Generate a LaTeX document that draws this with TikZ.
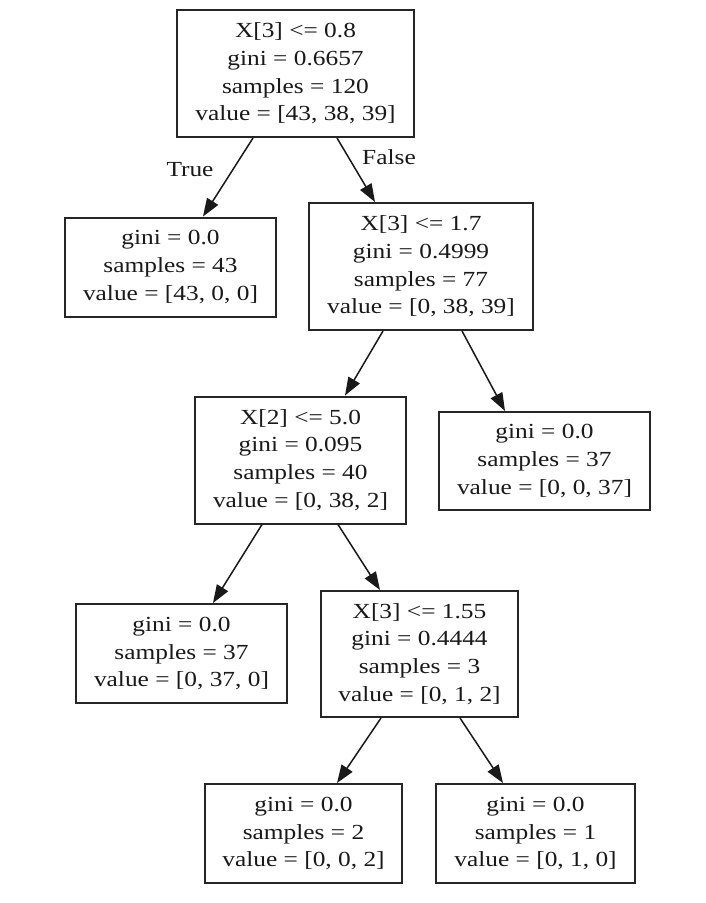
\documentclass[tikz,border=0pt]{standalone}
\usepackage{fontspec}
\setmainfont{Liberation Serif}[FakeStretch=1.18]
\usetikzlibrary{arrows.meta}
\begin{document}
\begin{tikzpicture}[x=1pt,y=-1pt,
  treenode/.style={draw=black!85, line width=2pt, fill=white, align=center,
    inner sep=0pt, font=\fontsize{21.5}{27.7}\selectfont, text=black!90},
  split/.style={treenode, minimum height=127pt},
  leaf/.style={treenode, minimum height=99pt},
  branch/.style={draw=black!90, line width=1.5pt,
    -{Triangle[length=18pt,width=13pt]}},
  edgelabel/.style={font=\fontsize{21.5}{26}\selectfont, text=black!90, inner sep=0pt}]
\useasboundingbox[fill=white] (0,0) rectangle (706,903);

% decision nodes and leaves
\node[split, minimum width=237pt] (root) at (295.5,73.5)
  {X[3] <= 0.8\\gini = 0.6657\\samples = 120\\value = [43, 38, 39]};
\node[leaf, minimum width=211pt] (l1) at (170.5,267)
  {gini = 0.0\\samples = 43\\value = [43, 0, 0]};
\node[split, minimum width=224pt] (n2) at (421,266.5)
  {X[3] <= 1.7\\gini = 0.4999\\samples = 77\\value = [0, 38, 39]};
\node[split, minimum width=211pt] (n3) at (300.5,460)
  {X[2] <= 5.0\\gini = 0.095\\samples = 40\\value = [0, 38, 2]};
\node[leaf, minimum width=211pt, minimum height=98pt] (l2) at (544.5,461)
  {gini = 0.0\\samples = 37\\value = [0, 0, 37]};
\node[leaf, minimum width=211pt] (l3) at (181.5,653.5)
  {gini = 0.0\\samples = 37\\value = [0, 37, 0]};
\node[split, minimum width=197pt, minimum height=126pt] (n4) at (419.5,654)
  {X[3] <= 1.55\\gini = 0.4444\\samples = 3\\value = [0, 1, 2]};
\node[leaf, minimum width=197pt] (l4) at (303.5,833.5)
  {gini = 0.0\\samples = 2\\value = [0, 0, 2]};
\node[leaf, minimum width=199pt] (l5) at (535.5,833.5)
  {gini = 0.0\\samples = 1\\value = [0, 1, 0]};

% branches
\draw[branch] ([xshift=-42.5pt]root.south) -- ([xshift=32.5pt]l1.north);
\draw[branch] ([xshift=41.5pt]root.south) -- ([xshift=-46pt]n2.north);
\draw[branch] ([xshift=-38pt]n2.south) -- ([xshift=44.5pt]n3.north);
\draw[branch] ([xshift=41pt]n2.south) -- ([xshift=-39.5pt]l2.north);
\draw[branch] ([xshift=-38.5pt]n3.south) -- ([xshift=31.5pt]l3.north);
\draw[branch] ([xshift=37.5pt]n3.south) -- ([xshift=-39.5pt]n4.north);
\draw[branch] ([xshift=-38.5pt]n4.south) -- ([xshift=33.5pt]l4.north);
\draw[branch] ([xshift=40.5pt]n4.south) -- ([xshift=-32.5pt]l5.north);

% branch labels
\node[edgelabel] (ltrue) at (190,170) {True};
\node[edgelabel] (lfalse) at (389,157) {False};
\end{tikzpicture}
\end{document}
